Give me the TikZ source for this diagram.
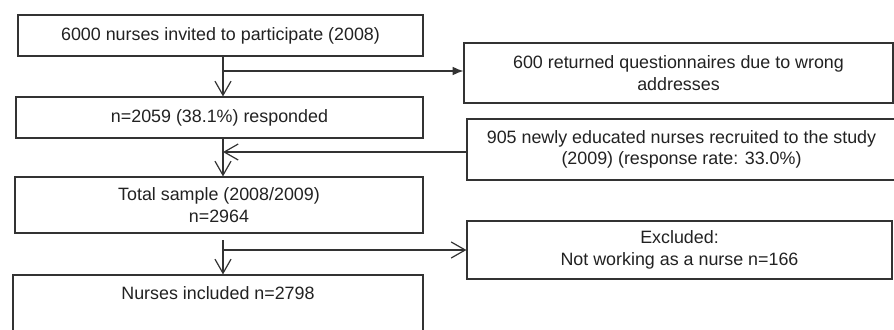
\documentclass[tikz,border=0pt]{standalone}
\usepackage{fontspec}
\setmainfont{Liberation Sans}
\usetikzlibrary{arrows.meta}
\definecolor{linegray}{HTML}{333333}
\definecolor{textgray}{HTML}{222222}
\begin{document}
\begin{tikzpicture}[x=0.75pt,y=-0.75pt,
  box/.style={draw=linegray, line width=0.9pt, inner sep=0pt, align=center,
    text=textgray, font=\fontsize{13.4}{16}\selectfont},
  conn/.style={draw=linegray, line width=0.9pt},
  openarrow/.style={conn, -{Straight Barb[length=10.5pt,width=12pt,line width=0.9pt]}},
  fillarrow/.style={conn, -{Latex[length=8pt,width=6.5pt]}}]
\useasboundingbox (0,0) rectangle (894,329);
\clip (0,0) rectangle (894,329);
\fill[white] (0,0) rectangle (894,329);

\node[box, minimum width=303.75pt, minimum height=30.75pt] (b1) at (220.5,35.5)
  {6000 nurses invited to participate (2008)};
\node[box, minimum width=305.25pt, minimum height=30.75pt] (b2) at (219.5,117.5)
  {n=2059 (38.1\%) responded};
\node[box, minimum width=306pt, minimum height=42pt] (b3) at (219,205)
  {Total sample (2008/2009)\\n=2964};
\node[box, minimum width=307.5pt, minimum height=52.5pt] (b4) at (218,310) {};
\node[box, draw=none, anchor=center] (b4t) at (218,293) {Nurses included n=2798};

\node[box, minimum width=321.75pt, minimum height=45pt] (r1) at (678.5,73)
  {600 returned questionnaires due to wrong\\addresses};
\node[box, minimum width=321.75pt, minimum height=45.75pt] (r2) at (681.5,149.5)
  {905 newly educated nurses recruited to the study\\(2009) (response rate: 33.0\%)};
\node[box, minimum width=318.75pt, minimum height=43.5pt] (r3) at (679.5,250)
  {Excluded:\\Not working as a nurse n=166};

\coordinate (s1) at (223,71);
\coordinate (s2) at (223,152);
\coordinate (s3) at (223,250);

\draw[conn] (b1.south -| s1) -- (s1);
\draw[openarrow] (s1) -- (b2.north -| s1);
\draw[fillarrow] (s1) -- (s1 -| r1.west);

\draw[openarrow] (b2.south -| s2) -- (b3.north -| s2);
\draw[openarrow] (s2 -| r2.west) -- (s2);

\draw[conn] ([yshift=-5pt]b3.south -| s3) -- (s3);
\draw[openarrow] (s3) -- (b4.north -| s3);
\draw[openarrow] (s3) -- (s3 -| r3.west);
\end{tikzpicture}
\end{document}
